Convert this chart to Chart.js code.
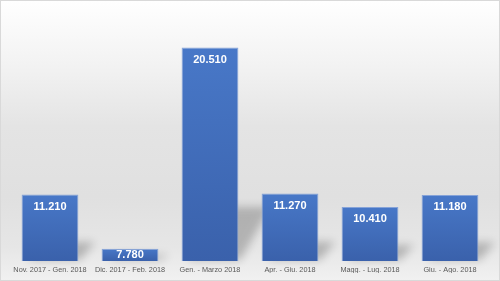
<!DOCTYPE html>
<html>
<head>
<meta charset="utf-8">
<script src="https://cdn.jsdelivr.net/npm/chart.js@4/dist/chart.umd.min.js"></script>
<style>
  html, body { margin: 0; padding: 0; background: #fff; }
  #wrap { width: 500px; height: 281px; }
</style>
</head>
<body>
<div id="wrap"><canvas id="canvas" width="500" height="281"></canvas></div>
<script>
var periods = ['Nov. 2017 - Gen. 2018', 'Dic. 2017 - Feb. 2018', 'Gen. - Marzo 2018', 'Apr. - Giu. 2018', 'Magg. - Lug. 2018', 'Giu. - Ago. 2018'];
var totals = [11210, 7780, 20510, 11270, 10410, 11180];

function fmt(v) {
  return String(v).replace(/\B(?=(\d{3})+(?!\d))/g, '.');
}

var bgPlugin = {
  id: 'bg',
  beforeDraw: function (chart) {
    var c = chart.ctx;
    var g = c.createLinearGradient(0, 0, 0, chart.height);
    g.addColorStop(0, '#ffffff');
    g.addColorStop(0.22, '#f3f3f3');
    g.addColorStop(0.45, '#e4e4e4');
    g.addColorStop(0.7, '#e0e0e0');
    g.addColorStop(0.88, '#e6e6e6');
    g.addColorStop(1, '#f1f1f1');
    c.save();
    c.fillStyle = g;
    c.fillRect(0, 0, chart.width, chart.height);
    c.strokeStyle = '#d9d9d9';
    c.lineWidth = 1;
    c.strokeRect(0.5, 0.5, chart.width - 1, chart.height - 1);
    c.restore();
  },
  beforeDatasetsDraw: function (chart) {
    var c = chart.ctx;
    var meta = chart.getDatasetMeta(0);
    var base = chart.chartArea.bottom;
    c.save();
    c.shadowColor = 'rgba(0,0,0,0.22)';
    c.shadowBlur = 8;
    c.shadowOffsetX = 1000;
    c.fillStyle = '#000';
    meta.data.forEach(function (bar) {
      var h = base - bar.y;
      var left = bar.x - bar.width / 2;
      var right = bar.x + bar.width / 2;
      var sh = h * 0.24 + 3;
      var dx = sh * 0.45 + 6;
      c.beginPath();
      c.moveTo(left + 6 - 1000, base - 1);
      c.lineTo(right + 2 - 1000, base - 1);
      c.lineTo(right + dx + 2 - 1000, base - sh);
      c.lineTo(left + dx + 6 - 1000, base - sh);
      c.closePath();
      c.fill();
    });
    c.restore();
  },
  afterDatasetsDraw: function (chart) {
    var c = chart.ctx;
    var meta = chart.getDatasetMeta(0);
    var base = chart.chartArea.bottom;
    c.save();
    c.fillStyle = '#ffffff';
    c.font = 'bold 11px "Liberation Sans", Arial, sans-serif';
    c.textAlign = 'center';
    c.textBaseline = 'middle';
    meta.data.forEach(function (bar, i) {
      var y = Math.min(bar.y + 12, (bar.y + base) / 2 + 0.5);
      c.fillText(fmt(totals[i]), bar.x, y);
    });
    c.restore();
  }
};

var ctx = document.getElementById('canvas').getContext('2d');

var chart = new Chart(ctx, {
  type: 'bar',
  data: {
    labels: periods,
    datasets: [{
      data: totals,
      backgroundColor: function (context) {
        var bar = context.element;
        var ch = context.chart;
        if (!bar || !ch.chartArea || isNaN(bar.y)) return '#4270be';
        var g = ch.ctx.createLinearGradient(0, bar.y, 0, ch.chartArea.bottom);
        g.addColorStop(0, '#4878c8');
        g.addColorStop(1, '#3a61ab');
        return g;
      },
      borderColor: '#86a3d8',
      borderWidth: 1,
      borderSkipped: false,
      barPercentage: 0.71,
      categoryPercentage: 1
    }]
  },
  options: {
    responsive: false,
    animation: false,
    layout: { padding: { left: 10, right: 10, top: 24, bottom: 8 } },
    plugins: {
      legend: { display: false },
      tooltip: { enabled: false }
    },
    scales: {
      x: {
        grid: { display: false, drawTicks: false, tickLength: 0 },
        border: { display: false },
        afterFit: function (scale) { scale.height = 12; },
        ticks: {
          color: '#595959',
          padding: 5,
          maxRotation: 0,
          autoSkip: false,
          font: { family: '"Liberation Sans", Arial, sans-serif', size: 7.3 }
        }
      },
      y: {
        display: false,
        min: 7000,
        max: 22000
      }
    }
  },
  plugins: [bgPlugin]
});
chart.update();
</script>
</body>
</html>
